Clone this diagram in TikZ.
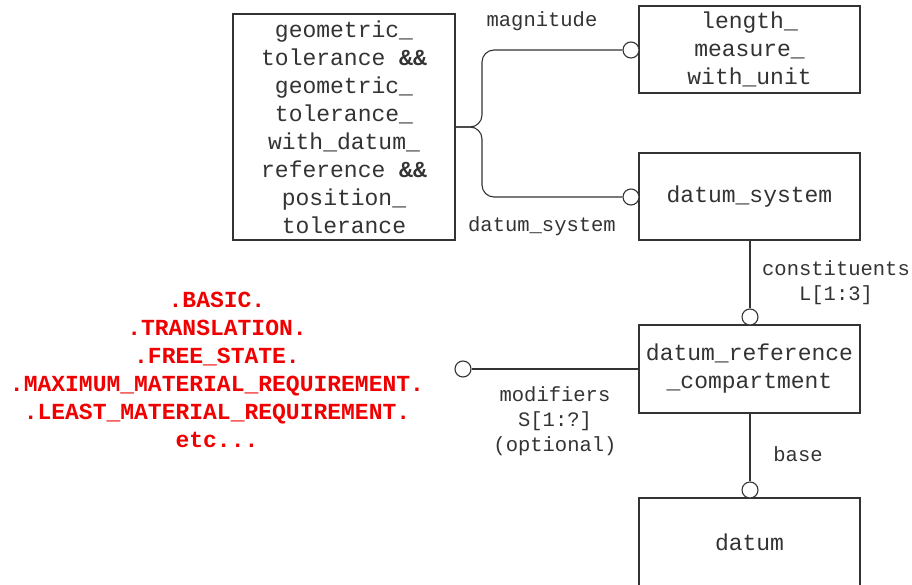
\documentclass[tikz,border=0pt]{standalone}
\usepackage{fontspec}
\setmonofont{Liberation Mono}
\definecolor{ink}{HTML}{333333}
\definecolor{redtxt}{HTML}{F00000}
\begin{document}
\begin{tikzpicture}[x=1pt,y=-1pt,
  ent/.style={draw=ink, line width=1.1pt, fill=white, inner sep=0pt, align=center,
    font=\ttfamily\fontsize{23}{28}\selectfont, text=ink},
  lbl/.style={inner sep=0pt, align=center, font=\ttfamily\fontsize{20.5}{25}\selectfont, text=ink},
  ring/.style={draw=ink, line width=1.1pt, fill=white, circle, minimum size=16pt, inner sep=0pt},
  conn/.style={draw=ink, line width=1.1pt}]
\useasboundingbox (0,0) rectangle (912,585);

\node[ent, minimum width=222pt, minimum height=226pt] (main) at (344,127)
  {geometric\_\\tolerance \textbf{\&\&}\\geometric\_\\tolerance\_\\with\_datum\_\\reference \textbf{\&\&}\\position\_\\tolerance};
\node[ent, minimum width=221pt, minimum height=87pt] (lmwu) at (749.5,49.5)
  {length\_\\measure\_\\with\_unit};
\node[ent, minimum width=221pt, minimum height=87pt] (ds) at (749.5,196.5) {datum\_system};
\node[ent, minimum width=221pt, minimum height=88pt] (drc) at (749.5,369)
  {datum\_reference\\\_compartment};
\node[ent, minimum width=221pt, minimum height=88pt] (dat) at (749.5,542) {datum};

\node[ring] (c1) at (631,50) {};
\node[ring] (c2) at (631,197) {};
\node[ring] (c3) at (750,317) {};
\node[ring] (c4) at (750,490) {};
\node[ring] (c5) at (463,369) {};

\coordinate (j) at (482,127);
\draw[conn, rounded corners=12pt] (main.east) -- (j) -- (j |- c1) -- (c1.west);
\draw[conn, rounded corners=12pt] (main.east) -- (j) -- (j |- c2) -- (c2.west);
\draw[conn] (ds.south -| c3) -- (c3.north);
\draw[conn] (drc.south -| c4) -- (c4.north);
\draw[conn] (drc.west |- c5) -- (c5.east);

\node[lbl] (lmag) at (542,21) {magnitude};
\node[lbl] (lds) at (542,226) {datum\_system};
\node[lbl] (lcon) at (836,283) {constituents\\L[1:3]};
\node[lbl] (lmod) at (555,421) {modifiers\\S[1:?]\\(optional)};
\node[lbl] (lbase) at (798,454) {base};

\node[inner sep=0pt, align=center, text=redtxt, font=\ttfamily\bfseries\fontsize{23}{28}\selectfont] (enum) at (217,369.5)
  {.BASIC.\\.TRANSLATION.\\.FREE\_STATE.\\.MAXIMUM\_MATERIAL\_REQUIREMENT.\\.LEAST\_MATERIAL\_REQUIREMENT.\\etc...};
\end{tikzpicture}
\end{document}
